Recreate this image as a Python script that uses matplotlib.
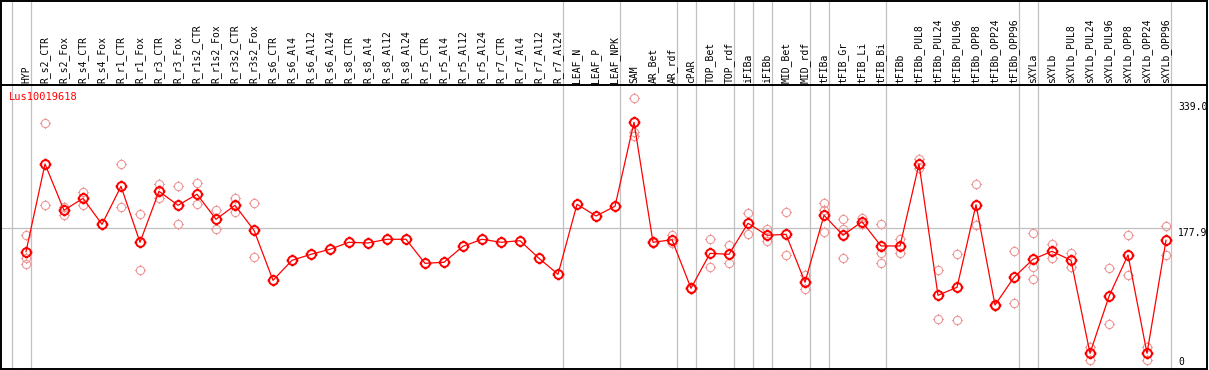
import matplotlib
matplotlib.use("Agg")
import numpy as np
import matplotlib.pyplot as plt
from matplotlib.path import Path
from matplotlib.patches import Rectangle


# ── Data ─────────────────────────────────────────────────────────────────────
GENE = "Lus10019618"

SAMPLES = [
    "HYP",
    "R_s2_CTR", "R_s2_Fox", "R_s4_CTR", "R_s4_Fox", "R_r1_CTR", "R_r1_Fox",
    "R_r3_CTR", "R_r3_Fox", "R_r1s2_CTR", "R_r1s2_Fox", "R_r3s2_CTR", "R_r3s2_Fox",
    "R_s6_CTR", "R_s6_Al4", "R_s6_Al12", "R_s6_Al24",
    "R_s8_CTR", "R_s8_Al4", "R_s8_Al12", "R_s8_Al24",
    "R_r5_CTR", "R_r5_Al4", "R_r5_Al12", "R_r5_Al24",
    "R_r7_CTR", "R_r7_Al4", "R_r7_Al12", "R_r7_Al24",
    "LEAF_N", "LEAF_P", "LEAF_NPK",
    "SAM", "AR_Bet", "AR_rdf",
    "cPAR",
    "TOP_Bet", "TOP_rdf",
    "iFIBa",
    "iFIBb",
    "MID_Bet", "MID_rdf",
    "tFIBa",
    "tFIB_Gr", "tFIB_Li", "tFIB_Bi",
    "tFIBb", "tFIBb_PUL8", "tFIBb_PUL24", "tFIBb_PUL96",
    "tFIBb_OPP8", "tFIBb_OPP24", "tFIBb_OPP96",
    "sXYLa",
    "sXYLb", "sXYLb_PUL8", "sXYLb_PUL24", "sXYLb_PUL96",
    "sXYLb_OPP8", "sXYLb_OPP24", "sXYLb_OPP96",
]

# samples per tissue group (gray separators between groups)
GROUP_SIZES = [1, 28, 3, 3, 1, 2, 1, 1, 2, 1, 3, 7, 1, 7]

MEANS = [
    146.8, 263.5, 201.9, 217.8, 183.2, 233.8, 159.3, 227.2, 208.5, 223.2,
    189.9, 208.5, 175.3, 108.7, 135.3, 143.3, 150.0, 159.3, 158.4, 163.3,
    163.3, 131.3, 132.7, 154.0, 163.3, 159.3, 161.4, 138.0, 116.7, 209.9,
    194.3, 207.2, 319.0, 159.3, 162.7, 98.1, 144.6, 143.3, 184.6, 168.6,
    169.9, 106.1, 195.2, 168.6, 186.7, 154.4, 154.4, 263.5, 88.8, 99.4,
    209.3, 75.8, 112.7, 136.7, 147.3, 135.3, 11.6, 87.4, 142.4, 11.6, 161.9,
]

REPLICATES = [
    [169.0, 138.0, 130.4],
    [317.6, 208.5],
    [206.7, 195.6],
    [226.2, 209.3],
    [183.2],
    [263.1, 205.9],
    [196.5, 122.0],
    [236.9, 217.8],
    [233.8, 183.2],
    [238.2, 209.9],
    [201.9, 177.4],
    [217.8, 199.2],
    [211.2, 139.3],
] + [[] for _ in range(19)] + [
    [350.9, 305.7, 301.1],
    [158.5, 160.0],
    [168.6, 158.0],
    [97.5, 98.5],
    [163.3, 126.8],
    [155.3, 132.1],
    [198.7, 169.9],
    [176.6, 161.0],
    [199.2, 142.0],
    [115.8, 97.1],
    [211.2, 202.3, 173.4],
    [189.9, 177.0, 138.0],
    [191.0, 183.6],
    [184.0, 145.0, 132.1],
    [163.7, 144.6],
    [269.7, 258.2],
    [122.0, 56.8],
    [143.3, 55.9],
    [236.5, 182.7],
    [75.0, 76.5],
    [147.3, 78.1],
    [171.3, 126.8, 110.1],
    [157.0, 138.0],
    [145.0, 126.0],
    [20.4, 2.7],
    [124.7, 50.2],
    [168.6, 115.4],
    [20.4, 2.7],
    [181.0, 142.4],
]

REF_LABELS = ["339.0", "177.9", "0"]
GRID_VALUE = 177.9


# ── Layout (pixels) ──────────────────────────────────────────────────────────
W, H = 1209, 370
HEADER = 85
COL0, COL_STEP = 26, 19          # first column centre, column spacing
Y_ZERO, PX_PER_UNIT = 362, 0.7515

GRAY = "#c0c0c0"
RED = "#ff0000"
PINK = "#ee9999"
FONT = "DejaVu Sans Mono"


def ring_marker() -> Path:
    circle = Path.unit_circle()
    t = 1.35
    ticks = Path([(0, 1), (0, t), (0, -1), (0, -t), (1, 0), (t, 0), (-1, 0), (-t, 0)],
                 [Path.MOVETO, Path.LINETO] * 4)
    return Path.make_compound_path(circle, ticks)


def main() -> None:
    assert len(SAMPLES) == len(MEANS) == len(REPLICATES) == sum(GROUP_SIZES)
    n = len(SAMPLES)
    x = np.arange(n)

    xlim = (-COL0 / COL_STEP, (W - COL0) / COL_STEP)
    ylim = ((Y_ZERO - H) / PX_PER_UNIT, (Y_ZERO - HEADER) / PX_PER_UNIT)

    fig = plt.figure(figsize=(W / 100, H / 100), dpi=100)
    ax = fig.add_axes([0, 0, 1, (H - HEADER) / H])
    hdr = fig.add_axes([0, (H - HEADER) / H, 1, HEADER / H])
    for a in (ax, hdr):
        a.set_xlim(*xlim)
        a.axis("off")
    ax.set_ylim(*ylim)
    hdr.set_ylim(0, HEADER)

    # group separators
    seps = np.concatenate([[0], np.cumsum(GROUP_SIZES)]) - 1 + 0.25
    for s in seps:
        ax.axvline(s, color=GRAY, lw=0.9, zorder=1)
        hdr.axvline(s, color=GRAY, lw=0.9, zorder=1)

    ax.hlines(GRID_VALUE, xlim[0], seps[-1], color=GRAY, lw=0.9, zorder=1)

    # sample labels
    for i, name in enumerate(SAMPLES):
        hdr.text(i, 2, name, rotation=90, ha="center", va="bottom",
                 fontsize=7, family=FONT, color="black")

    marker = ring_marker()
    rx = [i for i, r in enumerate(REPLICATES) for _ in r]
    ry = [v for r in REPLICATES for v in r]
    ax.plot(rx, ry, ls="none", marker=marker, ms=8, mfc="none", mec=PINK,
            mew=0.8, zorder=2)
    ax.plot(x, MEANS, color=RED, lw=0.9, zorder=3)
    ax.plot(x, MEANS, ls="none", marker=marker, ms=8.5, mfc="none", mec=RED,
            mew=1.4, zorder=4)

    # reference value labels on the right
    lab_x = n - 1 + 0.63
    for lab in REF_LABELS:
        v = float(lab)
        va = "top" if v == GRID_VALUE else "center"
        ax.text(lab_x, v, lab, ha="left", va=va, fontsize=7, family=FONT,
                color="black", clip_on=False)

    fig.text(9 / W, 1 - 97 / H, GENE, ha="left", va="center", fontsize=7.5,
             family=FONT, color=RED)

    # frame and header rule
    frame = fig.add_axes([0, 0, 1, 1])
    frame.set_xlim(0, W)
    frame.set_ylim(H, 0)
    frame.axis("off")
    frame.add_patch(Rectangle((1, 0.5), W - 3, H - 2, fill=False, ec="black", lw=1.4))
    frame.plot([1, W - 2], [HEADER, HEADER], color="black", lw=1.4)

    fig.savefig("out.png", dpi=100)
    plt.close(fig)


if __name__ == "__main__":
    main()
